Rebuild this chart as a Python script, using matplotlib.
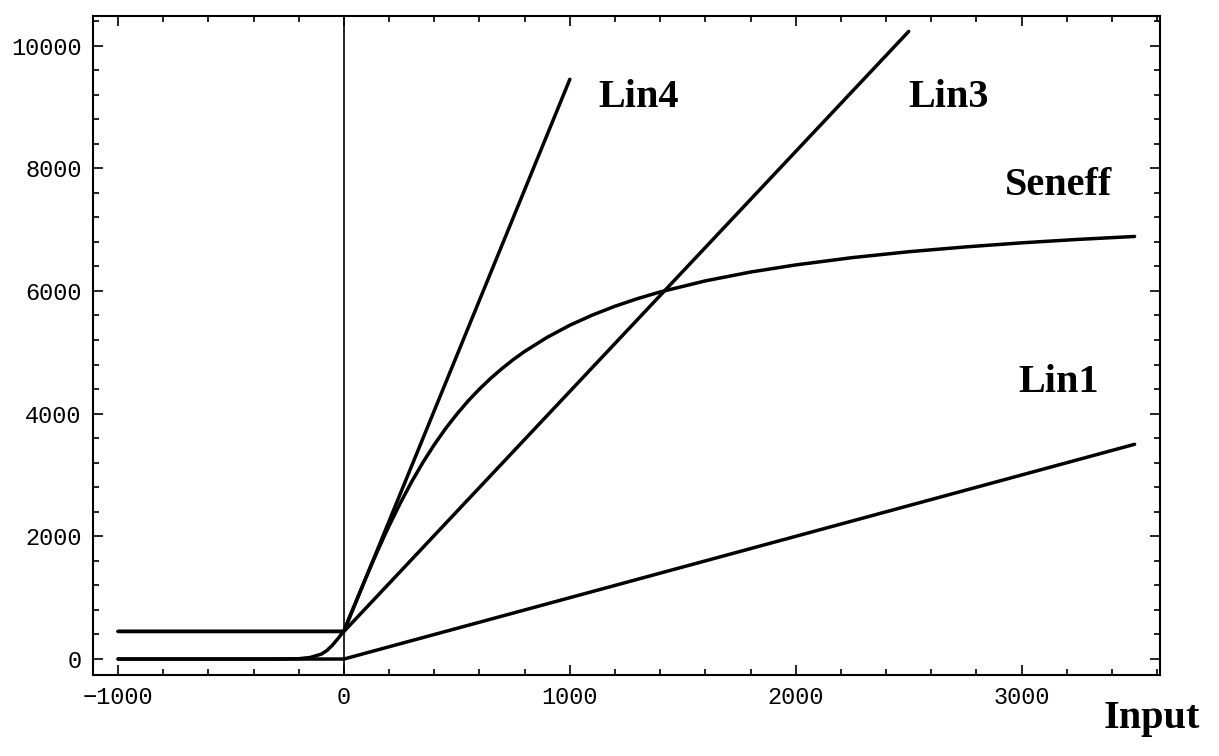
import numpy as np
import matplotlib
matplotlib.use("Agg")
import matplotlib.pyplot as plt
from matplotlib.ticker import MultipleLocator

# curves
lin1_x = [-1000, 0, 3500]
lin1_y = [0, 0, 3500]
lin3_x = [-1000, 0, 2500]
lin3_y = [450, 450, 10230]
lin4_x = [-1000, 0, 1000]
lin4_y = [450, 450, 9450]

seneff_x = [-1000, -300, -200, -150, -100, -75, -50, -25, 0, 25, 50, 75, 100, 125, 150,
            175, 200, 250, 300, 350, 400, 450, 500, 550, 600, 650, 700, 750, 800,
            900, 1000, 1100, 1200, 1300, 1400, 1600, 1800, 2000, 2250, 2500, 2750,
            3000, 3250, 3500]
seneff_y = [0, 0, 5, 25, 80, 140, 230, 340, 460, 690, 908, 1130, 1348, 1562, 1771,
            1975, 2172, 2546, 2891, 3207, 3495, 3757, 3993, 4208, 4401, 4577, 4736,
            4882, 5014, 5245, 5441, 5607, 5751, 5875, 5984, 6164, 6308, 6424, 6543,
            6639, 6717, 6784, 6840, 6888]

labels = ["Lin4", "Lin3", "Seneff", "Lin1"]
label_x = [1305, 2677, 3164, 3164]
label_y = [9154, 9154, 7724, 4504]

fig = plt.figure(figsize=(12.19, 7.56), dpi=100)
ax = fig.add_axes([0.076, 0.1075, 0.8756, 0.8717])

lw = 2.5
ax.plot(lin1_x, lin1_y, color="black", lw=lw, solid_capstyle="round")
ax.plot(lin3_x, lin3_y, color="black", lw=lw, solid_capstyle="round")
ax.plot(lin4_x, lin4_y, color="black", lw=lw, solid_capstyle="round")
ax.plot(seneff_x, seneff_y, color="black", lw=lw, solid_capstyle="round",
        solid_joinstyle="round")
ax.axvline(0, color="black", lw=1.2)

ax.set_xlim(-1112.5, 3612.5)
ax.set_ylim(-256, 10486)

ax.xaxis.set_major_locator(MultipleLocator(1000))
ax.xaxis.set_minor_locator(MultipleLocator(200))
ax.yaxis.set_major_locator(MultipleLocator(2000))
ax.yaxis.set_minor_locator(MultipleLocator(400))
ax.tick_params(which="both", direction="in", top=True, right=True, width=1.2)
ax.tick_params(which="major", length=7, labelsize=17, pad=8)
ax.tick_params(which="minor", length=4)
for lab in ax.get_xticklabels() + ax.get_yticklabels():
    lab.set_family("Liberation Mono")
for s in ax.spines.values():
    s.set_linewidth(1.5)

for t, x, y in zip(labels, label_x, label_y):
    ax.text(x, y, t, family="Liberation Serif", weight="bold", fontsize=29,
            ha="center", va="center")
fig.text(0.945, 0.050, "Input", family="Liberation Serif", weight="bold",
         fontsize=29, ha="center", va="center")

fig.savefig("out.png", dpi=100)
